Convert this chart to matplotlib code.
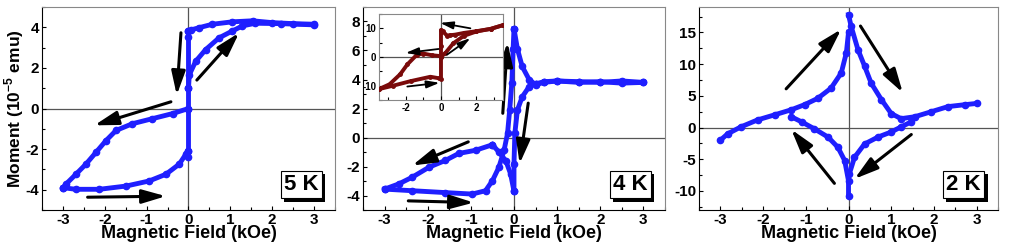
import matplotlib
matplotlib.use("Agg")
import matplotlib.pyplot as plt
import matplotlib.patheffects as pe
from matplotlib.ticker import MultipleLocator

plt.rcParams['font.family'] = ['Liberation Sans', 'DejaVu Sans']
plt.rcParams['font.weight'] = 'bold'
plt.rcParams['axes.labelweight'] = 'bold'
plt.rcParams['axes.unicode_minus'] = False
plt.rcParams['mathtext.fontset'] = 'custom'
plt.rcParams['mathtext.rm'] = 'Liberation Sans:bold'
plt.rcParams['mathtext.bf'] = 'Liberation Sans:bold'

BLUE = '#1f1fff'
RED = '#7a0a0a'

# ---- 5 K panel (units 1e-5 emu) ----
k5_down_x = [3, 2.5, 2, 1.53, 1.05, 0.57, 0.25, 0.06, 0]
k5_down_y = [4.15, 4.18, 4.23, 4.32, 4.27, 4.15, 3.98, 3.87, 3.82]
k5_jump_x = [0, 0, 0, 0, 0, 0]
k5_jump_y = [3.82, 3.5, 1.0, 0.0, -2.07, -2.4]
k5_left_x = [0, -0.38, -0.86, -1.34, -1.73, -1.97, -2.21, -2.45, -2.69, -2.93, -3]
k5_left_y = [0, -0.25, -0.5, -0.75, -1.08, -1.58, -2.16, -2.74, -3.24, -3.73, -3.9]
k5_low_x = [-3, -2.69, -2.13, -1.49, -0.94, -0.54, -0.22, -0.06, 0]
k5_low_y = [-3.9, -3.98, -3.98, -3.82, -3.57, -3.24, -2.74, -2.24, -2.07]
k5_up_x = [0, 0.02, 0.17, 0.41, 0.73, 1.05, 1.29, 1.6, 2.2, 3]
k5_up_y = [1.0, 1.66, 2.32, 2.9, 3.48, 3.82, 4.07, 4.2, 4.18, 4.12]
k5_arrows = [((-0.18, 3.73), (-0.28, 0.66)), ((0.2, 1.4), (1.21, 3.73)),
             ((-0.42, 0.33), (-2.25, -0.83)), ((-2.41, -4.37), (-0.54, -4.32))]

# ---- 4 K panel ----
k4_flat_x = [3, 2.5, 2, 1.5, 1.0, 0.7, 0.5]
k4_flat_y = [3.8, 3.75, 3.85, 3.8, 3.9, 3.85, 3.7]
k4_drop_x = [0.5, 0.35, 0.19, 0.08, 0.02, 0, 0]
k4_drop_y = [3.7, 3.5, 2.8, 1.9, 0.3, -1.8, -3.7]
k4_back_x = [0, -0.08, -0.19, -0.35, -0.5]
k4_back_y = [-3.7, -2.5, -1.6, -1.0, -0.5]
k4_left_x = [-0.5, -0.89, -1.28, -1.59, -1.97, -2.36, -2.67, -3.0]
k4_left_y = [-0.5, -0.88, -1.1, -1.58, -2.05, -2.74, -3.2, -3.56]
k4_low_x = [-3, -2.36, -1.59, -0.97, -0.66, -0.5, -0.35, -0.23, -0.15, -0.1, -0.05, -0.02, 0]
k4_low_y = [-3.56, -3.67, -3.8, -3.9, -3.67, -2.98, -2.05, -0.88, 0.28, 1.9, 3.77, 6.1, 7.5]
k4_peak_x = [0, 0.08, 0.19, 0.35, 0.5, 0.7, 1.0, 1.5, 2.0, 2.5, 3.0]
k4_peak_y = [7.5, 6.1, 4.9, 4.0, 3.65, 3.8, 3.9, 3.85, 3.8, 3.9, 3.8]
k4_arrows = [((-0.26, 1.67), (-0.15, 6.56)), ((0.33, 2.37), (0.13, -1.81)),
             ((-1.06, -0.3), (-2.36, -1.93)), ((-2.45, -4.37), (-0.93, -4.49))]

# ---- 4 K inset ----
in_down_x = [3.5, 2.8, 2.0, 1.3, 0.8, 0.53, 0.34, 0.1, 0, 0, 0]
in_down_y = [11.1, 9.8, 9.0, 8.4, 7.8, 7.6, 7.5, 8.9, 9.4, 4.0, 0.3]
in_left_x = [0, -0.5, -1.0, -1.36, -1.9, -2.3, -2.9, -3.5]
in_left_y = [0.3, 0.6, 1.2, 0.8, -2.6, -6.0, -9.5, -11.2]
in_low_x = [-3.5, -2.7, -1.7, -0.6, -0.13, 0, 0]
in_low_y = [-11.2, -10.0, -8.4, -6.9, -7.4, -7.6, 0.0]
in_up_x = [0, 0.25, 0.7, 1.3, 2.0, 2.8, 3.5]
in_up_y = [0.0, 1.4, 4.8, 7.4, 8.9, 9.8, 11.1]
in_arrows = [((1.66, 10.0), (-0.05, 11.9)), ((-0.13, 2.8), (-2.0, 1.4)),
             ((0.34, 0.8), (1.66, 6.6)), ((-1.9, -10.3), (-0.08, -9.0))]

# ---- 2 K panel ----
k2_ur_x = [0, 0.06, 0.22, 0.375, 0.53, 0.77, 1.0, 1.23, 1.55, 1.94, 2.33, 2.72, 3.0]
k2_ur_y = [17.8, 16.0, 12.3, 9.7, 7.0, 4.4, 2.2, 1.4, 1.7, 2.5, 3.3, 3.6, 3.8]
k2_ul_x = [0, -0.05, -0.17, -0.41, -0.72, -1.03, -1.34, -1.73, -2.13, -2.52, -2.83, -3.0]
k2_ul_y = [15.0, 11.8, 8.6, 6.2, 4.6, 3.6, 2.8, 2.0, 1.2, 0.1, -1.0, -2.0]
k2_ll_x = [0, 0, -0.09, -0.25, -0.48, -0.8, -1.1, -1.34]
k2_ll_y = [-10.8, -8.4, -5.2, -3.1, -1.5, -0.2, 0.9, 1.7]
k2_lr_x = [0.02, 0.14, 0.375, 0.69, 1.0, 1.23, 1.47]
k2_lr_y = [-7.3, -4.7, -2.6, -1.5, -0.7, 0.1, 0.9]
k2_arrows = [((-1.46, 6.1), (-0.17, 15.5)), ((0.28, 16.0), (1.27, 5.5)),
             ((1.47, -1.1), (0.14, -8.1)), ((-0.33, -8.8), (-1.34, -0.3))]

fig = plt.figure(figsize=(10.12, 2.5), dpi=100)
ax1 = fig.add_axes([0.0415, 0.16, 0.2895, 0.812])
ax2 = fig.add_axes([0.3587, 0.16, 0.2984, 0.812])
ax3 = fig.add_axes([0.6907, 0.16, 0.2955, 0.812])
axin = fig.add_axes([0.3745, 0.6, 0.1225, 0.344])


def style(ax, ylim, ymajor, yminor, fs=11):
    ax.set_xlim(-3.5, 3.5)
    ax.set_ylim(*ylim)
    ax.xaxis.set_major_locator(MultipleLocator(1))
    ax.xaxis.set_minor_locator(MultipleLocator(0.5))
    ax.yaxis.set_major_locator(MultipleLocator(ymajor))
    ax.yaxis.set_minor_locator(MultipleLocator(yminor))
    ax.tick_params(which='both', direction='in', labelsize=fs, width=0.8, pad=2)
    ax.tick_params(which='major', length=3)
    ax.tick_params(which='minor', length=2)
    for s in ['top', 'right']:
        ax.spines[s].set_color('#888888')
    ax.axhline(0, color='#555555', lw=0.9, zorder=1)
    ax.axvline(0, color='#555555', lw=0.9, zorder=1)


def bold_ticks(ax):
    ax.figure.canvas.draw()
    for lab in ax.get_xticklabels() + ax.get_yticklabels():
        lab.set_fontweight('bold')


def branches(ax, pairs, color, ms, lw):
    for x, y in pairs:
        ax.plot(x, y, '-o', color=color, ms=ms, lw=lw, zorder=3)


def arrows(ax, lst, lw=2.2, hl=13):
    for start, end in lst:
        ax.annotate('', xy=end, xytext=start, zorder=5,
                    arrowprops=dict(arrowstyle='-|>,head_width=0.32,head_length=1.1',
                                    color='black', lw=lw, mutation_scale=hl,
                                    shrinkA=0, shrinkB=0))


def label_box(ax, txt):
    t = ax.text(0.885, 0.125, txt, transform=ax.transAxes, ha='center', va='center',
                fontsize=16, fontweight='bold', zorder=6,
                bbox=dict(boxstyle='square,pad=0.15', fc='white', ec='black', lw=0.8))
    t.get_bbox_patch().set_path_effects([
        pe.SimplePatchShadow(offset=(2.5, -2.5), shadow_rgbFace='black', alpha=1),
        pe.Normal()])


style(ax1, (-5, 5), 2, 1)
branches(ax1, [(k5_down_x, k5_down_y), (k5_jump_x, k5_jump_y), (k5_left_x, k5_left_y),
               (k5_low_x, k5_low_y), (k5_up_x, k5_up_y)], BLUE, 4.5, 3.5)
arrows(ax1, k5_arrows)
label_box(ax1, '5 K')
ax1.set_ylabel(r'Moment (10$^{\mathbf{-5}}$ emu)', fontsize=12.5, fontweight='bold', labelpad=0)

style(ax2, (-5, 9), 2, 1)
branches(ax2, [(k4_flat_x, k4_flat_y), (k4_drop_x, k4_drop_y), (k4_back_x, k4_back_y),
               (k4_left_x, k4_left_y), (k4_low_x, k4_low_y), (k4_peak_x, k4_peak_y)],
         BLUE, 4.5, 3.5)
arrows(ax2, k4_arrows)
label_box(ax2, '4 K')

style(axin, (-15, 15), 10, 5, fs=7)
axin.set_xticks([-2, 0, 2])
axin.xaxis.set_minor_locator(MultipleLocator(1))
for s in ['bottom', 'left']:
    axin.spines[s].set_color('#888888')
branches(axin, [(in_down_x, in_down_y), (in_left_x, in_left_y),
                (in_low_x, in_low_y), (in_up_x, in_up_y)], RED, 2.5, 2.8)
arrows(axin, in_arrows, lw=1.3, hl=7)

style(ax3, (-13, 19), 5, 2.5)
branches(ax3, [(k2_ur_x, k2_ur_y), (k2_ul_x, k2_ul_y), (k2_ll_x, k2_ll_y),
               (k2_lr_x, k2_lr_y)], BLUE, 4.5, 3.5)
arrows(ax3, k2_arrows)
label_box(ax3, '2 K')

for ax in (ax1, ax2, ax3):
    ax.set_xlabel('Magnetic Field (kOe)', fontsize=13, fontweight='bold', labelpad=-1)

for ax in (ax1, ax2, ax3, axin):
    bold_ticks(ax)

fig.savefig('out.png', dpi=100)
